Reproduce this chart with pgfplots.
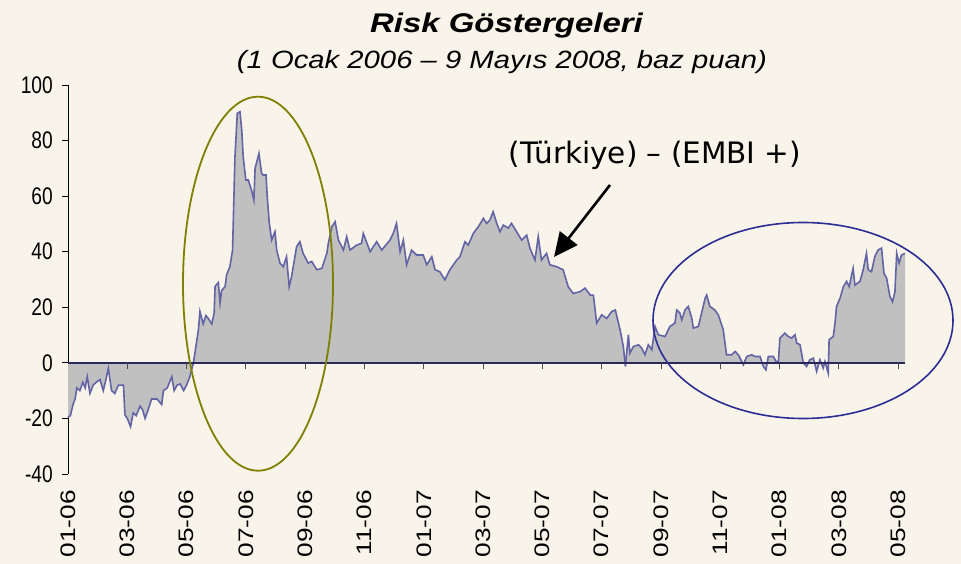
\documentclass[border=0pt]{standalone}
\usepackage{pgfplots}
\pgfplotsset{compat=1.18}
\usepackage{pgfplotstable}
\usepackage{fontspec}
\usetikzlibrary{arrows.meta}
\setmainfont{Liberation Sans}
\newfontfamily\titlefont[FakeStretch=1.22]{Liberation Sans}
\newfontfamily\subfont[FakeStretch=1.17]{Liberation Sans}
\newfontfamily\yfont[FakeStretch=0.8]{Liberation Sans}
\newfontfamily\xfont[FakeStretch=1.25]{Liberation Sans}
\newfontfamily\annfont{DejaVu Sans}
\definecolor{bgc}{RGB}{249,244,233}
\definecolor{areac}{RGB}{192,192,192}
\definecolor{linec}{RGB}{98,100,165}
\definecolor{zeroc}{RGB}{40,40,90}
\definecolor{olivec}{RGB}{128,128,0}
\definecolor{bluec}{RGB}{45,45,150}

\pgfplotstableread{
m v
0.00 -19.5
0.08 -19
0.17 -15
0.24 -13
0.30 -9
0.40 -10
0.50 -7
0.58 -9
0.65 -5
0.74 -11
0.85 -8
0.95 -7
1.08 -6
1.19 -10
1.28 -6
1.36 -2
1.47 -10
1.58 -11
1.70 -8
1.87 -8
1.92 -18.7
2.00 -20
2.11 -23
2.20 -18
2.30 -19
2.43 -15.6
2.52 -17
2.60 -20
2.70 -17
2.82 -13
3.00 -13
3.16 -15
3.22 -10
3.35 -9
3.50 -5
3.58 -10
3.68 -8
3.78 -7.6
3.90 -10
4.00 -8
4.11 -5
4.23 0
4.40 12
4.45 18.5
4.56 14
4.65 17
4.73 16
4.85 14
4.93 18
4.96 27.5
5.07 28.9
5.13 21.5
5.18 26
5.30 27.5
5.35 31.7
5.46 34.6
5.55 40.6
5.63 74
5.71 89.8
5.80 90.4
5.86 83.8
5.91 74
6.00 65.8
6.08 65.8
6.19 62.2
6.27 58.6
6.31 70
6.44 75.4
6.53 68.2
6.58 67.6
6.68 67.6
6.72 59.8
6.79 50.2
6.87 44.2
6.98 47.2
7.04 40.6
7.15 35.9
7.26 34.6
7.37 38.2
7.46 27.4
7.54 31
7.71 41.8
7.82 43.6
7.93 39.4
8.10 35.9
8.22 36.5
8.39 33.5
8.56 34
8.73 39.4
8.78 43
8.90 49
9.01 50.8
9.12 44.2
9.29 40.6
9.40 45.4
9.51 40.6
9.74 42.4
9.90 43
9.96 46.6
10.19 40
10.41 43.6
10.58 40.6
10.86 44.2
10.97 46.6
11.08 50.2
11.20 40
11.31 44.2
11.42 35.3
11.59 40.6
11.76 38.8
11.98 38.8
12.10 35.3
12.27 38.2
12.38 33.5
12.54 32.8
12.71 29.9
12.88 33.5
13.11 37
13.22 38.2
13.39 43.6
13.50 42.4
13.67 46.6
13.84 49
14.01 52
14.12 50.2
14.23 51.4
14.34 54.4
14.46 50.2
14.57 47.2
14.68 49.6
14.85 48.5
14.96 50.2
15.13 47.2
15.30 44.2
15.47 46
15.58 41.3
15.75 37
15.86 45.4
15.97 37
16.14 39.4
16.25 35.3
16.48 34.6
16.70 33.5
16.87 27.4
17.04 25
17.27 25.6
17.44 26.9
17.61 24.4
17.72 24.4
17.83 14.3
18.00 17.3
18.17 16
18.34 18.5
18.46 19
18.62 11.9
18.73 5.9
18.80 -1.3
18.90 10.1
18.95 3.5
19.07 5.9
19.24 6.5
19.35 5.3
19.46 2.9
19.57 6.5
19.69 4.7
19.80 13.1
19.91 10.1
20.14 9.5
20.30 13.1
20.47 14.3
20.53 19
20.64 17.9
20.70 15.5
20.81 19
20.92 20.3
21.04 16
21.09 12.5
21.26 13.1
21.37 17.9
21.49 23.3
21.54 24.4
21.65 20.3
21.82 19
21.93 17.3
21.99 15.5
22.10 11.9
22.21 2.9
22.38 2.9
22.50 4.1
22.61 2.9
22.78 -0.7
22.89 2.3
23.06 2.9
23.17 2.3
23.34 2.3
23.45 -1.3
23.54 -2.5
23.62 2.3
23.79 2.3
23.88 0.5
23.96 0.5
24.01 8.9
24.18 10.7
24.29 9.5
24.41 8.9
24.52 10.1
24.58 7.1
24.69 6.5
24.80 0
24.91 -1.3
25.02 1.1
25.14 1.7
25.25 -3.1
25.36 1.1
25.47 -1.9
25.53 0.5
25.64 -3.7
25.67 8.3
25.81 9.5
25.87 14.3
25.92 20.3
26.04 23.3
26.15 27.4
26.26 29.3
26.35 27.4
26.43 31.7
26.48 34
26.54 28
26.71 29.3
26.82 33.5
26.93 39.4
26.99 33.5
27.10 32.8
27.21 38.2
27.32 40.6
27.44 41.3
27.52 32.3
27.61 30.5
27.72 23.9
27.81 22
27.89 25.6
27.95 39.4
28.03 35.9
28.11 38.8
28.23 39.4
}\risk

\begin{document}
\begin{tikzpicture}
\path[use as bounding box, fill=bgc] (-68bp,-90bp) rectangle (893bp,474bp);
\begin{axis}[
  at={(0,0)}, anchor=south west, scale only axis,
  width=837bp, height=389bp,
  xmin=0, xmax=28.23, ymin=-40, ymax=100,
  axis x line=bottom, axis y line=left,
  x axis line style={draw=none},
  y axis line style={-, black, line width=0.9bp},
  xtick={0,2,...,28},
  xticklabels={01-06,03-06,05-06,07-06,09-06,11-06,01-07,03-07,05-07,07-07,09-07,11-07,01-08,03-08,05-08},
  xtick style={draw=none},
  ytick={-40,-20,0,20,40,60,80,100},
  ytick style={black, line width=0.9bp},
  tick align=outside, major tick length=6bp,
  /pgf/number format/assume math mode=true,
  yticklabel style={font=\yfont\fontsize{24bp}{26bp}\selectfont, anchor=east, inner sep=0pt, xshift=-9bp},
  xticklabel style={font=\xfont\fontsize{21bp}{23bp}\selectfont, rotate=90, anchor=east, inner sep=0pt},
  xticklabel shift=10bp,
  clip=false,
]
\addplot[fill=areac, draw=none] table[x=m, y=v] {\risk} \closedcycle;
\addplot[color=linec, line width=1.6bp] table[x=m, y=v] {\risk};
\draw[zeroc, line width=1.6bp] (axis cs:0,0) -- (axis cs:28.23,0);
\end{axis}
\foreach \k in {2,4,...,28} {\draw[black!70, line width=1bp] (\k*29.65bp,111bp) -- (\k*29.65bp,105bp);}
\node[font=\titlefont\bfseries\itshape\fontsize{27bp}{30bp}\selectfont, anchor=base] at (438.5bp,441bp) {Risk Göstergeleri};
\node[font=\subfont\itshape\fontsize{25bp}{28bp}\selectfont, anchor=base] at (434bp,405bp) {(1 Ocak 2006 – 9 Mayıs 2008, baz puan)};
\node[font=\annfont\fontsize{29.5bp}{32bp}\selectfont, anchor=base] at (587bp,310.7bp) {(Türkiye) – (EMBI +)};
\draw[black, line width=2.6bp, -{Triangle[length=24bp,width=22bp]}] (542bp,289bp) -- (486bp,217bp);
\draw[olivec, line width=1.8bp] (190bp,190.3bp) ellipse [x radius=75bp, y radius=187bp];
\draw[bluec, line width=1.6bp] (735bp,153.5bp) ellipse [x radius=150bp, y radius=98bp];
\end{tikzpicture}
\end{document}
